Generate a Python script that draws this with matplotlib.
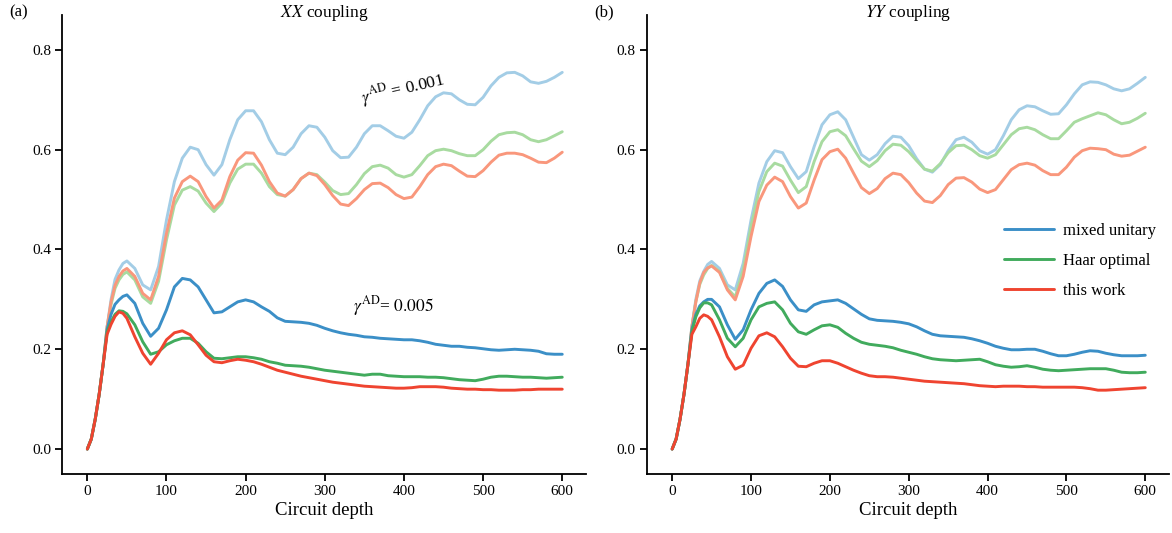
import numpy as np
import matplotlib
matplotlib.use("Agg")
import matplotlib.pyplot as plt

plt.rcParams['font.family'] = ['Liberation Serif', 'DejaVu Serif']
plt.rcParams['mathtext.fontset'] = 'stix'

# Circuit depth samples (finer at the start, where the curves rise steeply)
depth = [0, 5, 10, 15, 20, 25, 30, 35, 40, 45] + list(range(50, 610, 10))

# ---- XX coupling, gamma = 0.001 (light) ----
xx_mu_001 = [0, 0.02, 0.06, 0.11, 0.17, 0.245, 0.30, 0.34, 0.359, 0.372,
             0.377, 0.362, 0.329, 0.319, 0.366,
             0.459, 0.536, 0.583, 0.605, 0.600, 0.570, 0.549, 0.570, 0.620, 0.660,
             0.678, 0.678, 0.656, 0.620, 0.593, 0.590, 0.605, 0.632, 0.648, 0.645,
             0.625, 0.598, 0.584, 0.585, 0.605, 0.632, 0.648, 0.648, 0.638, 0.627,
             0.623, 0.635, 0.660, 0.688, 0.706, 0.714, 0.712, 0.700, 0.691, 0.690,
             0.705, 0.728, 0.745, 0.754, 0.755, 0.748, 0.736, 0.733, 0.737, 0.745, 0.755]
xx_haar_001 = [0, 0.02, 0.06, 0.11, 0.17, 0.245, 0.29, 0.322, 0.339, 0.350,
               0.355, 0.339, 0.305, 0.292, 0.336,
               0.419, 0.489, 0.519, 0.526, 0.517, 0.493, 0.476, 0.493, 0.533, 0.561,
               0.571, 0.571, 0.553, 0.526, 0.510, 0.507, 0.520, 0.542, 0.553, 0.550,
               0.535, 0.518, 0.510, 0.512, 0.530, 0.552, 0.566, 0.569, 0.563, 0.550,
               0.545, 0.550, 0.568, 0.588, 0.598, 0.601, 0.598, 0.592, 0.588, 0.588,
               0.600, 0.617, 0.630, 0.634, 0.635, 0.630, 0.620, 0.616, 0.620, 0.628, 0.636]
xx_this_001 = [0, 0.02, 0.06, 0.11, 0.17, 0.245, 0.295, 0.328, 0.346, 0.357,
               0.362, 0.346, 0.312, 0.299, 0.346,
               0.432, 0.503, 0.536, 0.547, 0.536, 0.506, 0.483, 0.499, 0.546, 0.579,
               0.594, 0.593, 0.569, 0.536, 0.513, 0.507, 0.520, 0.542, 0.553, 0.548,
               0.530, 0.508, 0.491, 0.488, 0.502, 0.520, 0.532, 0.533, 0.524, 0.510,
               0.502, 0.505, 0.526, 0.550, 0.566, 0.571, 0.568, 0.557, 0.547, 0.546,
               0.558, 0.575, 0.589, 0.593, 0.593, 0.590, 0.583, 0.575, 0.574, 0.583, 0.595]

# ---- XX coupling, gamma = 0.005 (dark) ----
xx_mu_005 = [0, 0.02, 0.06, 0.11, 0.17, 0.24, 0.27, 0.29, 0.299, 0.306,
             0.309, 0.292, 0.252, 0.226, 0.242,
             0.279, 0.325, 0.342, 0.339, 0.325, 0.299, 0.273, 0.275, 0.285, 0.295,
             0.299, 0.295, 0.285, 0.276, 0.263, 0.256, 0.255, 0.254, 0.252, 0.248,
             0.242, 0.237, 0.233, 0.230, 0.228, 0.225, 0.224, 0.222, 0.221, 0.220,
             0.219, 0.219, 0.217, 0.214, 0.210, 0.208, 0.206, 0.206, 0.204, 0.203,
             0.201, 0.199, 0.198, 0.199, 0.200, 0.199, 0.198, 0.196, 0.191, 0.190, 0.190]
xx_haar_005 = [0, 0.02, 0.06, 0.11, 0.17, 0.235, 0.255, 0.27, 0.277, 0.276,
               0.271, 0.249, 0.215, 0.190, 0.195,
               0.209, 0.217, 0.222, 0.222, 0.212, 0.195, 0.182, 0.181, 0.183, 0.185,
               0.185, 0.183, 0.180, 0.175, 0.172, 0.168, 0.167, 0.166, 0.164, 0.161,
               0.158, 0.156, 0.154, 0.152, 0.150, 0.148, 0.150, 0.150, 0.147, 0.146,
               0.145, 0.145, 0.145, 0.144, 0.144, 0.143, 0.141, 0.139, 0.138, 0.137,
               0.140, 0.144, 0.146, 0.146, 0.145, 0.144, 0.144, 0.143, 0.142, 0.143, 0.144]
xx_this_005 = [0, 0.02, 0.06, 0.11, 0.17, 0.23, 0.25, 0.266, 0.275, 0.272,
               0.262, 0.225, 0.192, 0.170, 0.192,
               0.219, 0.233, 0.237, 0.229, 0.209, 0.188, 0.175, 0.173, 0.177, 0.180,
               0.178, 0.175, 0.170, 0.164, 0.158, 0.154, 0.150, 0.146, 0.143, 0.140,
               0.137, 0.134, 0.132, 0.130, 0.128, 0.126, 0.125, 0.124, 0.123, 0.122,
               0.122, 0.123, 0.125, 0.125, 0.125, 0.124, 0.122, 0.121, 0.120, 0.120,
               0.119, 0.119, 0.118, 0.118, 0.118, 0.119, 0.119, 0.120, 0.120, 0.120, 0.120]

# ---- YY coupling, gamma = 0.001 (light) ----
yy_mu_001 = [0, 0.02, 0.06, 0.11, 0.17, 0.245, 0.30, 0.337, 0.356, 0.370,
             0.376, 0.362, 0.329, 0.319, 0.372,
             0.459, 0.533, 0.576, 0.598, 0.594, 0.566, 0.542, 0.556, 0.606, 0.650,
             0.670, 0.676, 0.660, 0.625, 0.590, 0.579, 0.590, 0.612, 0.627, 0.625,
             0.608, 0.582, 0.561, 0.555, 0.570, 0.598, 0.620, 0.625, 0.615, 0.598,
             0.591, 0.600, 0.628, 0.660, 0.680, 0.688, 0.686, 0.678, 0.671, 0.672,
             0.690, 0.712, 0.730, 0.736, 0.735, 0.730, 0.722, 0.718, 0.722, 0.733, 0.745]
yy_haar_001 = [0, 0.02, 0.06, 0.11, 0.17, 0.245, 0.295, 0.33, 0.349, 0.362,
               0.368, 0.356, 0.322, 0.305, 0.359,
               0.446, 0.516, 0.556, 0.573, 0.567, 0.539, 0.514, 0.526, 0.576, 0.616,
               0.636, 0.640, 0.628, 0.602, 0.577, 0.566, 0.578, 0.598, 0.611, 0.609,
               0.596, 0.578, 0.561, 0.557, 0.572, 0.594, 0.608, 0.609, 0.600, 0.588,
               0.583, 0.590, 0.610, 0.630, 0.642, 0.645, 0.640, 0.630, 0.622, 0.622,
               0.638, 0.655, 0.662, 0.668, 0.674, 0.670, 0.660, 0.652, 0.655, 0.663, 0.673]
yy_this_001 = [0, 0.02, 0.06, 0.11, 0.17, 0.245, 0.295, 0.333, 0.354, 0.363,
               0.367, 0.354, 0.319, 0.299, 0.346,
               0.426, 0.496, 0.529, 0.545, 0.536, 0.506, 0.483, 0.493, 0.539, 0.580,
               0.596, 0.601, 0.583, 0.553, 0.524, 0.512, 0.522, 0.542, 0.553, 0.550,
               0.534, 0.513, 0.497, 0.494, 0.508, 0.530, 0.543, 0.544, 0.535, 0.521,
               0.514, 0.520, 0.540, 0.560, 0.570, 0.573, 0.569, 0.558, 0.550, 0.550,
               0.565, 0.585, 0.598, 0.603, 0.602, 0.600, 0.591, 0.587, 0.589, 0.597, 0.605]

# ---- YY coupling, gamma = 0.005 (dark) ----
yy_mu_005 = [0, 0.02, 0.06, 0.11, 0.17, 0.24, 0.27, 0.287, 0.295, 0.300,
             0.300, 0.285, 0.249, 0.220, 0.239,
             0.279, 0.312, 0.332, 0.339, 0.326, 0.299, 0.279, 0.276, 0.289, 0.295,
             0.297, 0.299, 0.292, 0.281, 0.270, 0.261, 0.258, 0.257, 0.256, 0.254,
             0.251, 0.245, 0.237, 0.230, 0.227, 0.226, 0.225, 0.224, 0.221, 0.217,
             0.212, 0.206, 0.202, 0.199, 0.199, 0.200, 0.200, 0.196, 0.191, 0.187,
             0.187, 0.190, 0.194, 0.197, 0.196, 0.192, 0.189, 0.187, 0.187, 0.187, 0.188]
yy_haar_005 = [0, 0.02, 0.06, 0.11, 0.17, 0.235, 0.265, 0.283, 0.293, 0.293,
               0.289, 0.259, 0.222, 0.205, 0.222,
               0.259, 0.285, 0.292, 0.295, 0.279, 0.252, 0.235, 0.230, 0.239, 0.247,
               0.249, 0.244, 0.232, 0.222, 0.214, 0.210, 0.208, 0.206, 0.203, 0.198,
               0.194, 0.190, 0.185, 0.181, 0.179, 0.178, 0.177, 0.178, 0.179, 0.180,
               0.175, 0.169, 0.166, 0.164, 0.165, 0.167, 0.164, 0.160, 0.158, 0.157,
               0.158, 0.159, 0.160, 0.161, 0.161, 0.161, 0.158, 0.154, 0.153, 0.153, 0.154]
yy_this_005 = [0, 0.02, 0.06, 0.11, 0.17, 0.23, 0.245, 0.262, 0.269, 0.266,
               0.259, 0.225, 0.185, 0.160, 0.168,
               0.202, 0.227, 0.233, 0.225, 0.205, 0.182, 0.166, 0.165, 0.172, 0.177,
               0.177, 0.172, 0.165, 0.158, 0.152, 0.147, 0.145, 0.145, 0.144, 0.142,
               0.140, 0.138, 0.136, 0.135, 0.134, 0.133, 0.132, 0.131, 0.129, 0.127,
               0.126, 0.125, 0.126, 0.126, 0.126, 0.125, 0.125, 0.124, 0.124, 0.124,
               0.124, 0.124, 0.123, 0.121, 0.118, 0.118, 0.119, 0.120, 0.121, 0.122, 0.123]

labels = ["mixed unitary", "Haar optimal", "this work"]
dark = ["#3b8fc7", "#41ab5d", "#ef4430"]
light = ["#a3cde6", "#a8dba0", "#f9977c"]
xticks = [0, 100, 200, 300, 400, 500, 600]
yticks = [0.0, 0.2, 0.4, 0.6, 0.8]

fig = plt.figure(figsize=(11.72, 5.33), dpi=100)
axL = fig.add_axes([0.0529, 0.1107, 0.4471, 0.8612])
axR = fig.add_axes([0.552, 0.1107, 0.4454, 0.8612])

panels = [
    (axL, [xx_mu_001, xx_haar_001, xx_this_001], [xx_mu_005, xx_haar_005, xx_this_005], "XX"),
    (axR, [yy_mu_001, yy_haar_001, yy_this_001], [yy_mu_005, yy_haar_005, yy_this_005], "YY"),
]

for ax, lights, darks, name in panels:
    for s, c in zip(lights, light):
        ax.plot(depth, s, color=c, lw=2.1, solid_capstyle='round')
    for s, c, lab in zip(darks, dark, labels):
        ax.plot(depth, s, color=c, lw=2.1, label=lab, solid_capstyle='round')
    ax.set_xlim(-32, 630)
    ax.set_ylim(-0.05, 0.87)
    ax.set_xticks(xticks)
    ax.set_yticks(yticks)
    ax.set_yticklabels([f"{t:.1f}" for t in yticks])
    ax.spines['top'].set_visible(False)
    ax.spines['right'].set_visible(False)
    for sp in ('left', 'bottom'):
        ax.spines[sp].set_linewidth(1.3)
    ax.tick_params(axis='both', direction='out', length=5, width=1.3, labelsize=11, pad=3)
    ax.set_xlabel("Circuit depth", fontsize=13.5, labelpad=3)
    ax.text(0.5, 1.005, rf"${name}$ coupling", transform=ax.transAxes,
            ha='center', va='center', fontsize=12.5)

axL.text(399, 0.722, r"$\gamma^{\mathrm{AD}}$ = 0.001", rotation=13,
         ha='center', va='center', fontsize=12.5)
axL.text(387, 0.287, r"$\gamma^{\mathrm{AD}}$= $\mathit{0.005}$",
         ha='center', va='center', fontsize=12.5)

axR.legend(loc='upper left', bbox_to_anchor=(0.672, 0.562), frameon=False,
           fontsize=12, handlelength=3.0, handletextpad=0.5, labelspacing=0.85,
           borderaxespad=0)

fig.text(0.008, 0.977, "(a)", fontsize=12, ha='left', va='center')
fig.text(0.507, 0.977, "(b)", fontsize=12, ha='left', va='center')

fig.savefig("out.png", dpi=100)
